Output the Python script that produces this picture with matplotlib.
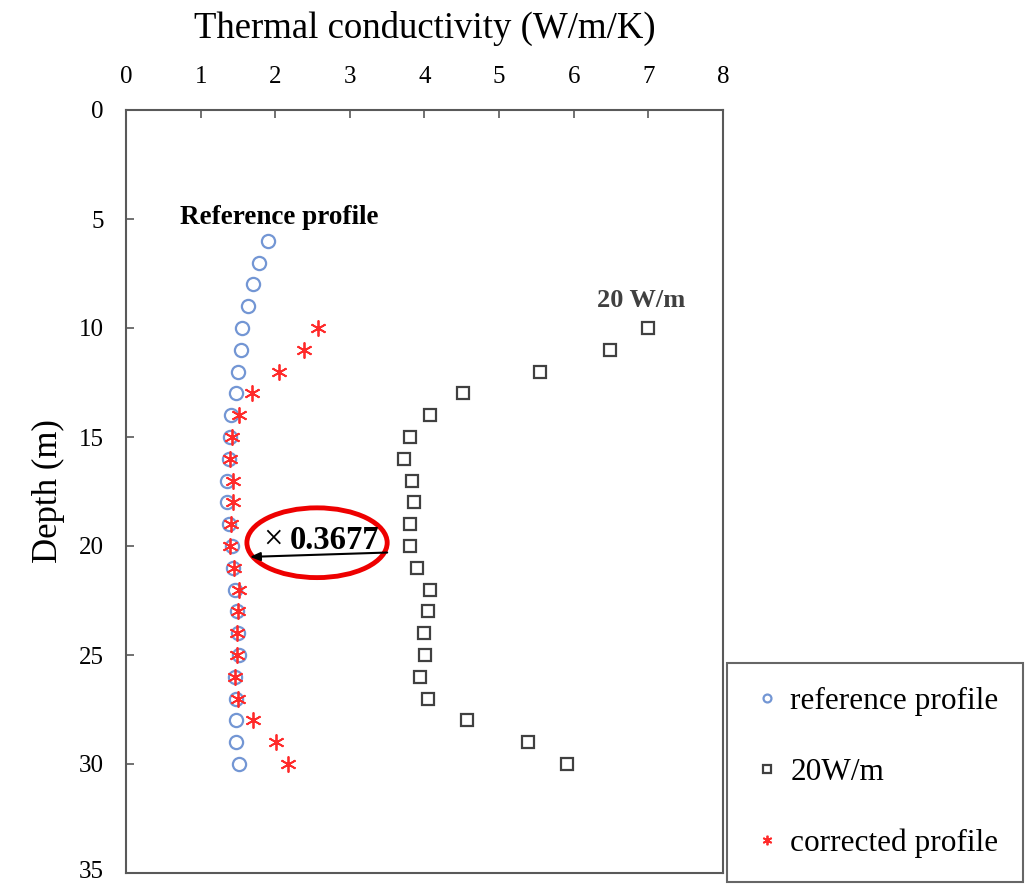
import matplotlib
matplotlib.use("Agg")
import matplotlib.pyplot as plt
from matplotlib.patches import Ellipse
from matplotlib.transforms import ScaledTranslation

plt.rcParams['font.family'] = ['Liberation Serif', 'DejaVu Serif']

# ---- data ----
ref_depth = [6, 7, 8, 9, 10, 11, 12, 13, 14, 15, 16, 17, 18, 19, 20, 21, 22, 23,
             24, 25, 26, 27, 28, 29, 30]
ref_k = [1.90, 1.78, 1.70, 1.64, 1.55, 1.54, 1.50, 1.47, 1.41, 1.39, 1.38, 1.35,
         1.36, 1.38, 1.42, 1.44, 1.46, 1.49, 1.50, 1.51, 1.46, 1.48, 1.47, 1.48, 1.51]

w20_depth = [10, 11, 12, 13, 14, 15, 16, 17, 18, 19, 20, 21, 22, 23, 24, 25, 26,
             27, 28, 29, 30]
w20_k = [7.00, 6.49, 5.55, 4.52, 4.07, 3.81, 3.72, 3.83, 3.86, 3.81, 3.80, 3.90,
         4.07, 4.05, 3.99, 4.01, 3.94, 4.05, 4.57, 5.39, 5.91]

cor_depth = [10, 11, 12, 13, 14, 15, 16, 17, 18, 19, 20, 21, 22, 23, 24, 25, 26,
             27, 28, 29, 30]
cor_k = [2.57, 2.39, 2.05, 1.69, 1.52, 1.42, 1.39, 1.43, 1.44, 1.41, 1.39, 1.45,
         1.52, 1.50, 1.49, 1.49, 1.46, 1.50, 1.70, 2.01, 2.17]

x_ticks = [0, 1, 2, 3, 4, 5, 6, 7, 8]
y_ticks = [0, 5, 10, 15, 20, 25, 30, 35]
factor_label = "0.3677"

fig = plt.figure(figsize=(10.34, 8.84), dpi=100)
ax = fig.add_axes([126/1034, 1-873/884, (723-126)/1034, (873-110)/884])

ax.plot(ref_k, ref_depth, linestyle='none', marker='o', markersize=9.5,
        markerfacecolor='none', markeredgecolor='#7396D4', markeredgewidth=1.6,
        label='reference profile')
ax.plot(w20_k, w20_depth, linestyle='none', marker='s', markersize=8.5,
        markerfacecolor='none', markeredgecolor='#404040', markeredgewidth=1.6,
        label='20W/m')
ax.plot(cor_k, cor_depth, linestyle='none', marker=(6, 2, 0), markersize=11.5,
        color='#FF2A2A', markeredgewidth=1.3, label='corrected profile')

ax.set_xlim(0, 8)
ax.set_ylim(35, 0)
ax.set_xticks(x_ticks)
ax.set_yticks(y_ticks)
ax.xaxis.tick_top()
ax.xaxis.set_label_position('top')
ax.tick_params(direction='in', length=6, width=1.2, colors='#595959',
               labelcolor='black', labelsize=18, pad=16)
for s in ax.spines.values():
    s.set_color('#595959')
    s.set_linewidth(1.5)

# keep the bottom "35" label fully inside the figure
last = ax.yaxis.get_major_ticks()[-1].label1
last.set_transform(last.get_transform() + ScaledTranslation(0, 3/100, fig.dpi_scale_trans))

ax.set_xlabel('Thermal conductivity (W/m/K)', fontsize=26.5, labelpad=20)
ax.set_ylabel('Depth (m)', fontsize=25, labelpad=10)

# annotations
ax.text(0.73, 4.95, 'Reference profile', fontsize=19.5, fontweight='bold',
        ha='left', va='center')
ax.text(6.31, 8.75, '20 W/m', fontsize=19, fontweight='bold', color='#404040',
        ha='left', va='center')

ax.annotate('', xy=(1.66, 20.5), xytext=(3.50, 20.3),
            arrowprops=dict(arrowstyle='-|>,head_length=0.6,head_width=0.25',
                            color='black', lw=1.5, shrinkA=0, shrinkB=0))
ax.add_patch(Ellipse((2.56, 19.85), 1.88, 3.2, fill=False, edgecolor='#EE0000',
                     linewidth=3.5))
ax.text(1.97, 19.75, '×', fontsize=25, ha='center', va='center')
ax.text(2.19, 19.75, factor_label, fontsize=23.5, fontweight='bold',
        ha='left', va='center')

leg = fig.legend(loc='upper left', bbox_to_anchor=(727/1034, 1-663/884),
                 fontsize=22.5, frameon=True, fancybox=False, markerscale=0.6,
                 numpoints=1, handlelength=1.0, handletextpad=0.25,
                 labelspacing=1.33, borderpad=0.78, borderaxespad=0)
leg.get_frame().set_edgecolor('#404040')
leg.get_frame().set_linewidth(1.5)

fig.savefig('out.png', dpi=100)
